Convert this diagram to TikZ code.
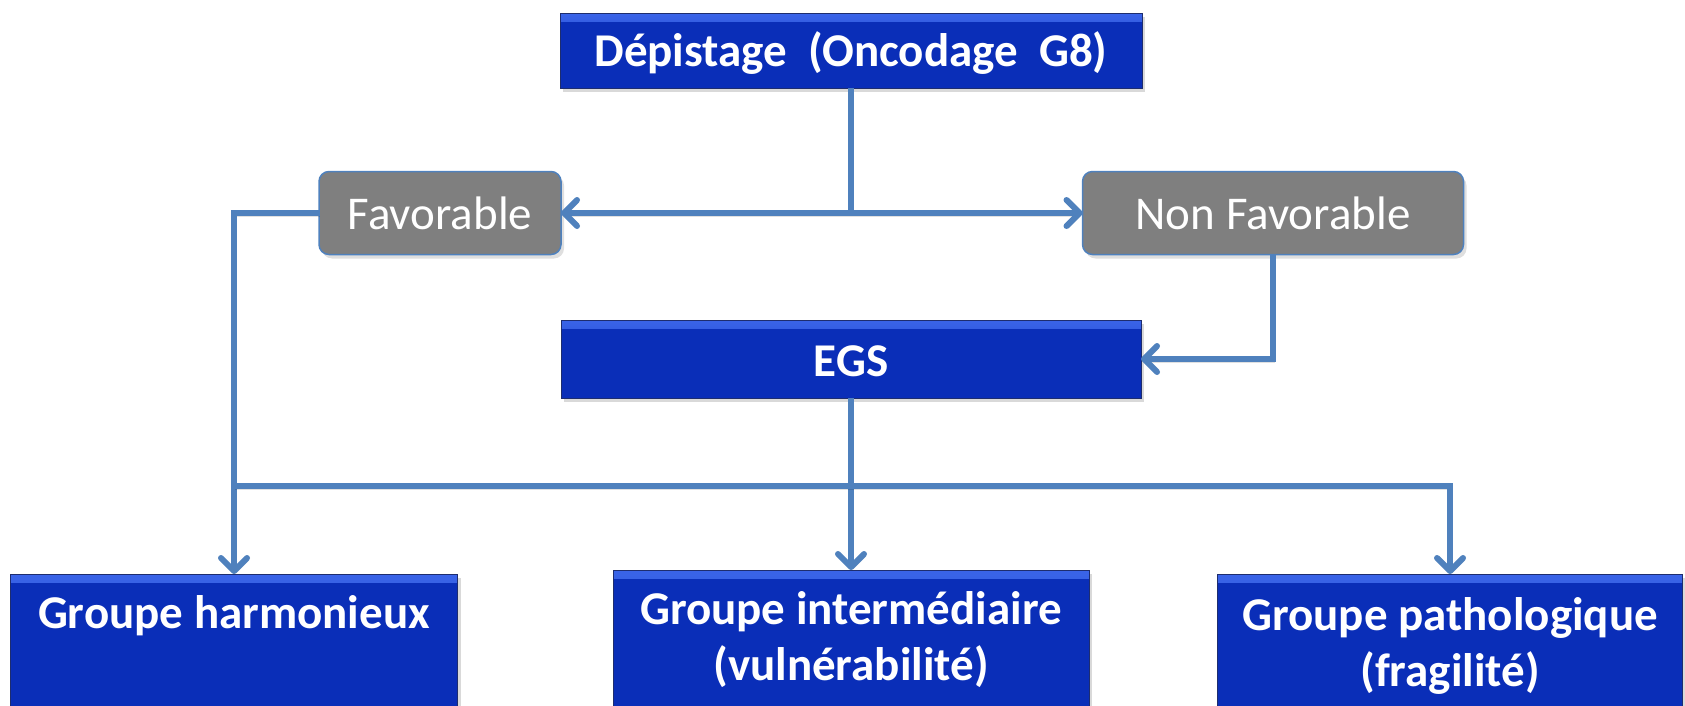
\documentclass[tikz,border=0pt]{standalone}
\usepackage{fontspec}
\setmainfont{Carlito}
\usetikzlibrary{arrows.meta,shadows}
\definecolor{boxblue}{HTML}{0A2EB8}
\definecolor{bevel}{HTML}{3A64E8}
\definecolor{boxedge}{HTML}{1E2D6E}
\definecolor{edgeblue}{HTML}{4F81BD}
\definecolor{greybox}{HTML}{7F7F7F}
\tikzset{
  bluebox/.style={draw=boxedge, line width=0.8pt, fill=boxblue, outer sep=0pt, inner sep=0pt,
    drop shadow={opacity=0.3, shadow xshift=3pt, shadow yshift=-4pt},
    path picture={\shade[top color=bevel, bottom color=boxblue]
      (path picture bounding box.north west) rectangle ([yshift=-8pt]path picture bounding box.north east);}},
  btext/.style={text=white, font=\bfseries\fontsize{47}{56}\selectfont, align=center, inner sep=0pt},
  greynode/.style={draw=edgeblue, line width=1.5pt, fill=greybox, rounded corners=10pt, outer sep=0pt,
    text=white, font=\fontsize{47}{56}\selectfont,
    drop shadow={opacity=0.25, shadow xshift=3pt, shadow yshift=-4pt}},
  conn/.style={draw=edgeblue, line width=6pt,
    preaction={draw=black, opacity=0.12, transform canvas={shift={(1pt,-3pt)}}}},
  barb/.tip={Straight Barb[length=13pt,width=26pt,line width=6pt,round]},
  tip/.style={-barb},
  tips/.style={barb-barb}
}
\begin{document}
\begin{tikzpicture}[x=1pt,y=-1pt]
\useasboundingbox (0,0) rectangle (1685,706);
% boxes
\node[bluebox, minimum width=582pt, minimum height=75pt] (top) at (851,51) {};
\node[btext] (toptxt) at (851,53) {Dépistage~ (Oncodage~ G8)};
\node[greynode, minimum width=242pt, minimum height=83pt] (fav) at (440,213) {Favorable};
\node[greynode, minimum width=381pt, minimum height=83pt] (nfav) at (1273,213) {Non Favorable};
\node[bluebox, minimum width=580pt, minimum height=78pt] (egs) at (851,359) {};
\node[btext] (egstxt) at (851,361) {EGS};
\node[bluebox, minimum width=447pt, minimum height=180pt, anchor=north] (harm) at (234,574) {};
\node[btext] (harmtxt) at (234,616) {Groupe harmonieux};
\node[bluebox, minimum width=476pt, minimum height=180pt, anchor=north] (inter) at (851,570) {};
\node[btext] (intertxt) at (851,640) {Groupe intermédiaire\\(vulnérabilité)};
\node[bluebox, minimum width=465pt, minimum height=180pt, anchor=north] (patho) at (1450,574) {};
\node[btext] (pathotxt) at (1450,646) {Groupe pathologique\\(fragilité)};
\coordinate (hb) at (234,486);
% connectors
\draw[conn] (top.south) -- (top.south |- fav.east);
\draw[conn, tips] (fav.east) -- (nfav.west);
\draw[conn, tip] (nfav.south) |- (egs.east);
\draw[conn, tip] (fav.west) -| (harm.north);
\draw[conn, tip] (egs.south) -- (inter.north);
\draw[conn, tip] (hb) -| (patho.north);
\end{tikzpicture}
\end{document}
